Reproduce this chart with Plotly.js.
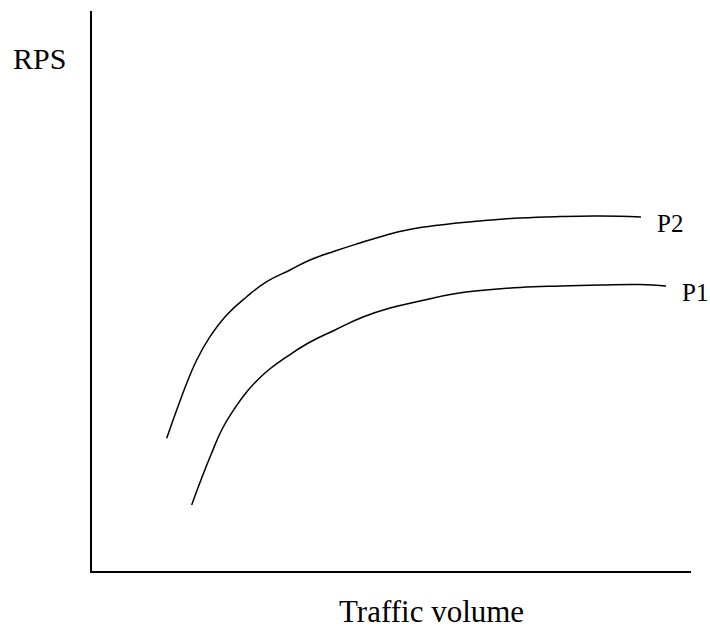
<!DOCTYPE html>
<html>
<head>
<meta charset="utf-8">
<script src="https://cdn.plot.ly/plotly-3.0.1.min.js"></script>
<style>html,body{margin:0;padding:0;background:#fff;}#chart{width:710px;height:630px;}</style>
</head>
<body>
<div id="chart"></div>
<script>
// Traffic volume (arbitrary units) and RPS (arbitrary units)
const p2Traffic = [12.47, 14.14, 15.81, 17.48, 19.70, 22.49, 25.83, 29.17, 33.06, 36.39, 40.57, 44.74, 48.91, 52.59, 58.10, 64.77, 71.45, 78.13, 84.81, 91.65];
const p2Rps     = [23.70, 28.75, 33.52, 37.68, 41.84, 45.71, 48.98, 51.66, 53.75, 55.54, 57.14, 58.57, 59.91, 60.89, 61.79, 62.50, 63.04, 63.30, 63.39, 63.21];
const p1Traffic = [16.64, 18.31, 19.98, 21.65, 23.87, 26.09, 28.88, 32.22, 36.11, 40.57, 45.24, 49.75, 54.76, 60.27, 65.78, 71.45, 78.13, 84.81, 91.49, 95.83];
const p1Rps     = [11.79, 16.61, 21.07, 25.18, 29.11, 32.32, 35.36, 38.04, 40.71, 43.04, 45.36, 46.96, 48.21, 49.46, 50.18, 50.63, 50.89, 51.07, 51.16, 50.89];
const seriesNames = ['P2', 'P1'];
const xLabel = 'Traffic volume';
const yLabel = 'RPS';

const font = "'Liberation Serif', 'Times New Roman', serif";
const lineStyle = {color: '#000', width: 1.5, shape: 'spline', smoothing: 1.3};

const traces = [
  {x: p2Traffic, y: p2Rps, name: seriesNames[0], mode: 'lines', line: lineStyle, hoverinfo: 'skip'},
  {x: p1Traffic, y: p1Rps, name: seriesNames[1], mode: 'lines', line: lineStyle, hoverinfo: 'skip'}
];

const endLabel = (xs, ys, txt) => ({
  x: xs[xs.length - 1], y: ys[ys.length - 1], xref: 'x', yref: 'y',
  text: txt, showarrow: false, xanchor: 'left', yanchor: 'middle',
  xshift: 14, yshift: -6, font: {family: font, size: 25, color: '#000'}
});

const layout = {
  width: 710, height: 630,
  margin: {l: 92, r: 19, t: 11, b: 59},
  paper_bgcolor: '#fff', plot_bgcolor: '#fff',
  showlegend: false,
  font: {family: font, color: '#000'},
  xaxis: {range: [0, 100], showgrid: false, zeroline: false, showticklabels: false, ticks: '',
          showline: true, linecolor: '#000', linewidth: 2},
  yaxis: {range: [0, 100], showgrid: false, zeroline: false, showticklabels: false, ticks: '',
          showline: true, linecolor: '#000', linewidth: 2},
  annotations: [
    {x: -0.0876, y: 0.915, xref: 'paper', yref: 'paper', text: yLabel, showarrow: false,
     xanchor: 'center', yanchor: 'middle', font: {family: font, size: 30, color: '#000'}},
    {x: 0.5676, y: -0.072, xref: 'paper', yref: 'paper', text: xLabel, showarrow: false,
     xanchor: 'center', yanchor: 'middle', font: {family: font, size: 31, color: '#000'}},
    endLabel(p2Traffic, p2Rps, seriesNames[0]),
    endLabel(p1Traffic, p1Rps, seriesNames[1])
  ]
};

Plotly.newPlot('chart', traces, layout, {displayModeBar: false, staticPlot: true});
</script>
</body>
</html>
